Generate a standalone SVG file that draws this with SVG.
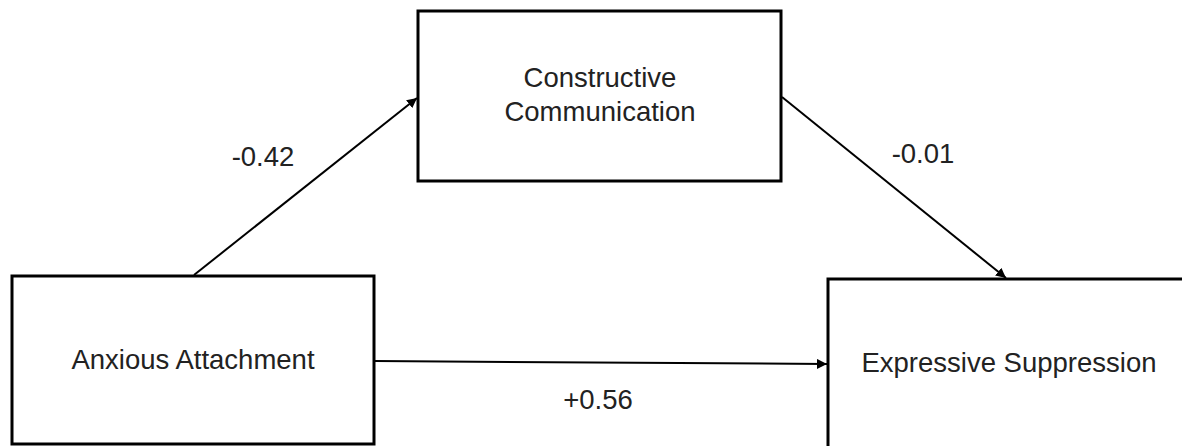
<svg xmlns="http://www.w3.org/2000/svg" width="1182" height="446" viewBox="0 0 1182 446">
  <style>
    .box { fill: #ffffff; stroke: #000000; stroke-width: 3; }
    .lbl { font-family: "Liberation Sans", Arial, sans-serif; font-size: 27.5px; fill: #222222; text-anchor: middle; }
    .edge { stroke: #000000; stroke-width: 2; fill: none; marker-end: url(#arrow); }
  </style>
  <defs>
    <marker id="arrow" viewBox="0 0 10 10" refX="10" refY="5" markerWidth="5" markerHeight="5" orient="auto" markerUnits="strokeWidth">
      <path d="M0,0 L10,5 L0,10 Z" fill="#000000"/>
    </marker>
  </defs>
  <rect width="1182" height="446" fill="#ffffff"/>
  <g id="connectors">
    <line class="edge" x1="194" y1="275" x2="417" y2="98"/>
    <line class="edge" x1="782" y1="97" x2="1006" y2="278"/>
    <line class="edge" x1="375" y1="361" x2="827" y2="364"/>
    <text class="lbl" x="263" y="166">-0.42</text>
    <text class="lbl" x="923" y="163">-0.01</text>
    <text class="lbl" x="598" y="409">+0.56</text>
  </g>
  <g id="node-constructive">
    <rect class="box" x="418" y="11" width="363" height="170"/>
    <text class="lbl" x="600" y="87">Constructive</text>
    <text class="lbl" x="600" y="121">Communication</text>
  </g>
  <g id="node-anxious">
    <rect class="box" x="12" y="276" width="362" height="168"/>
    <text class="lbl" x="193" y="369">Anxious Attachment</text>
  </g>
  <g id="node-expressive">
    <rect class="box" x="828" y="279" width="400" height="200"/>
    <text class="lbl" x="1009" y="372">Expressive Suppression</text>
  </g>
</svg>
